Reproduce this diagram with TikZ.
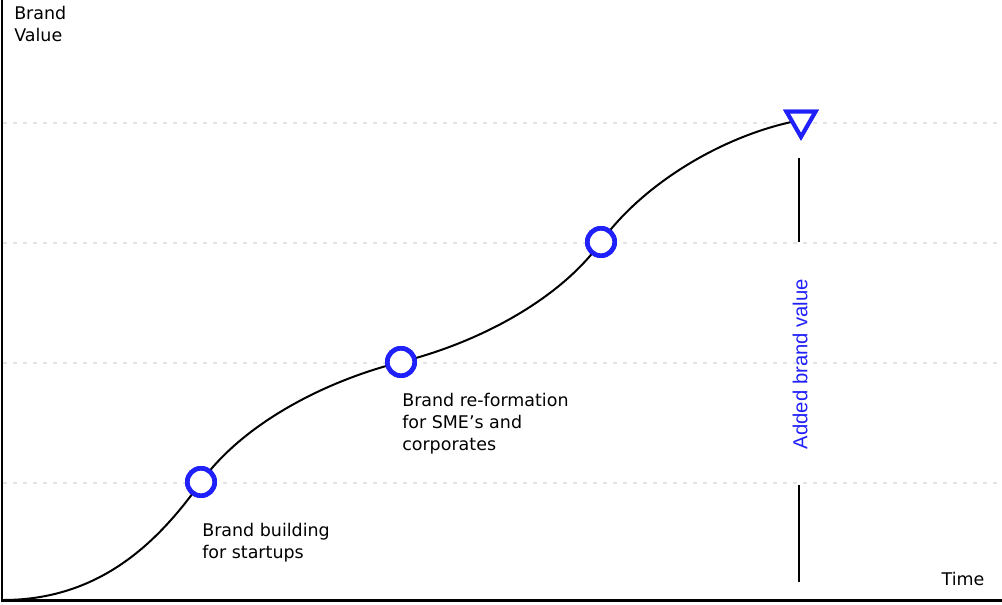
\documentclass[tikz,border=0pt]{standalone}
\usepackage{fontspec}
\setmainfont{DejaVu Sans}
\newfontfamily\valuefont{Liberation Sans}
\usepackage{tikz}
\usetikzlibrary{shapes.geometric,positioning,calc}
\definecolor{brandblue}{RGB}{32,32,250}
\definecolor{gridgray}{RGB}{228,228,228}

\begin{document}
\begin{tikzpicture}[x=0.75pt, y=-0.75pt,
grid/.style={draw=gridgray, line width=1.5pt, dash pattern=on 3pt off 4.5pt},
axis/.style={draw=black, line width=2.2pt},
curve/.style={draw=black, line width=1.5pt},
milestone/.style={circle, draw=brandblue, fill=white, line width=3.5pt,
minimum size=20.5pt, inner sep=0pt},
tipmark/.style={regular polygon, regular polygon sides=3, shape border rotate=180,
draw=brandblue, fill=white, line width=3pt, minimum size=25pt, inner sep=0pt},
vline/.style={draw=black, line width=1.5pt},
lbl/.style={anchor=north west, inner sep=0pt, align=left,
font=\fontsize{13.1}{16.5}\selectfont}
]
\useasboundingbox (0,0) rectangle (1002,604);

% horizontal guides
\foreach \gy in {123,243,363,483}
\draw[grid] (3,\gy) -- (1002,\gy);

% axes
\draw[axis] (2,0) -- (2,600.5) -- (1002,600.5);

\coordinate (o) at (3,600);
\node[milestone] (c1) at (201,482) {};
\node[milestone] (c2) at (401,362) {};
\node[milestone] (c3) at (601,242) {};
\node[tipmark] (tip) at (801,120) {};

\draw[curve] (o) .. controls +(100,0) and +(-40,56) .. (c1.center)
.. controls +(40,-56) and +(-80,20) .. (c2.center)
.. controls +(80,-20) and +(-40,56) .. (c3.center)
.. controls +(40,-56) and +(-80,15) .. (tip.center);

% markers again on top of the curve
\node[milestone] at (c1) {};
\node[milestone] at (c2) {};
\node[milestone] at (c3) {};
\node[tipmark] at (tip) {};

% added value bar
\coordinate (vtop) at (799,158);
\coordinate (gtop) at (799,242);
\coordinate (gbot) at (799,485);
\coordinate (vbase) at (799,582);
\draw[vline] (vtop) -- (gtop);
\draw[vline] (gbot) -- (vbase);
\node[rotate=90, text=brandblue, font=\valuefont\fontsize{15.2}{17}\selectfont]
(added) at (800,364) {Added brand value};

% labels
\node[lbl] (yl) at (14,6) {Brand\\Value};
\node[font=\fontsize{13.1}{16.5}\selectfont] (xl) at (963,579) {Time};
\node[lbl] (l1) at (202,523) {Brand building\\for startups};
\node[lbl] (l2) at (402,393) {Brand re-formation\\for SME’s and\\corporates};

\end{tikzpicture}
\end{document}
